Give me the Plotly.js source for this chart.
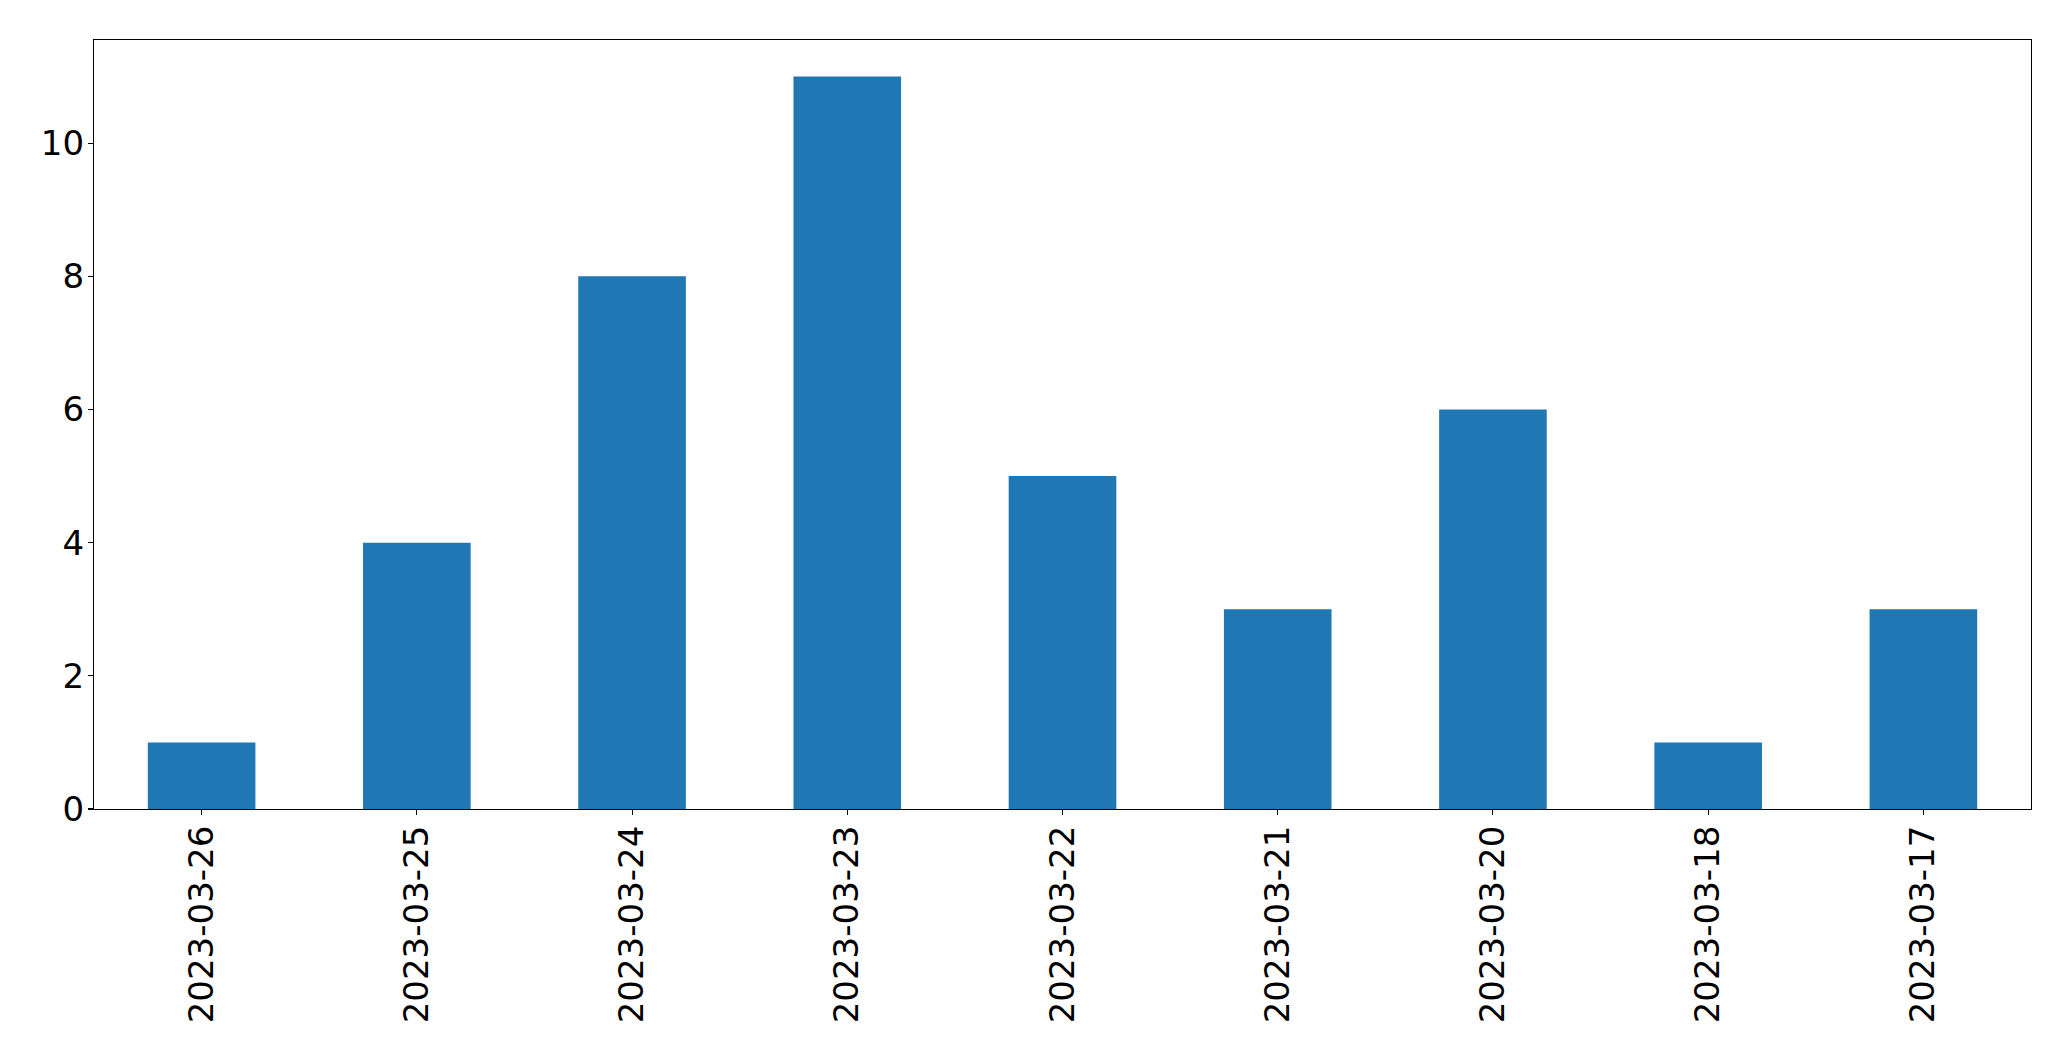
<!DOCTYPE html>
<html>
<head>
<meta charset="utf-8">
<script src="https://cdn.plot.ly/plotly-3.0.1.min.js"></script>
<style>html,body{margin:0;padding:0;background:#fff;}#chart{width:2071px;height:1061px;}</style>
</head>
<body>
<div id="chart"></div>
<script>
const categories = ["2023-03-26","2023-03-25","2023-03-24","2023-03-23","2023-03-22","2023-03-21","2023-03-20","2023-03-18","2023-03-17"];
const counts = [1, 4, 8, 11, 5, 3, 6, 1, 3];
const yTicks = [0, 2, 4, 6, 8, 10];

const trace = {
  type: 'bar',
  x: categories,
  y: counts,
  width: 0.5,
  marker: {color: '#1f77b4', line: {width: 0}},
  hoverinfo: 'x+y'
};

const axisCommon = {
  showline: true, mirror: true, linecolor: '#000', linewidth: 1.1,
  ticks: 'outside', ticklen: 5, tickwidth: 1.1, tickcolor: '#000',
  showgrid: false, zeroline: false,
  tickfont: {family: 'DejaVu Sans', size: 34, color: '#000'}
};

const layout = {
  width: 2071, height: 1061,
  margin: {l: 94, r: 40, t: 40, b: 252, pad: 0},
  paper_bgcolor: '#fff', plot_bgcolor: '#fff',
  showlegend: false,
  xaxis: Object.assign({}, axisCommon, {
    type: 'category', range: [-0.5, 8.5], tickangle: -90,
    ticklabelstandoff: -3
  }),
  yaxis: Object.assign({}, axisCommon, {
    range: [0, 11.55], tickvals: yTicks, ticktext: yTicks.map(String),
    ticklabelstandoff: -3
  })
};

Plotly.newPlot('chart', [trace], layout, {displayModeBar: false, staticPlot: true});
</script>
</body>
</html>
